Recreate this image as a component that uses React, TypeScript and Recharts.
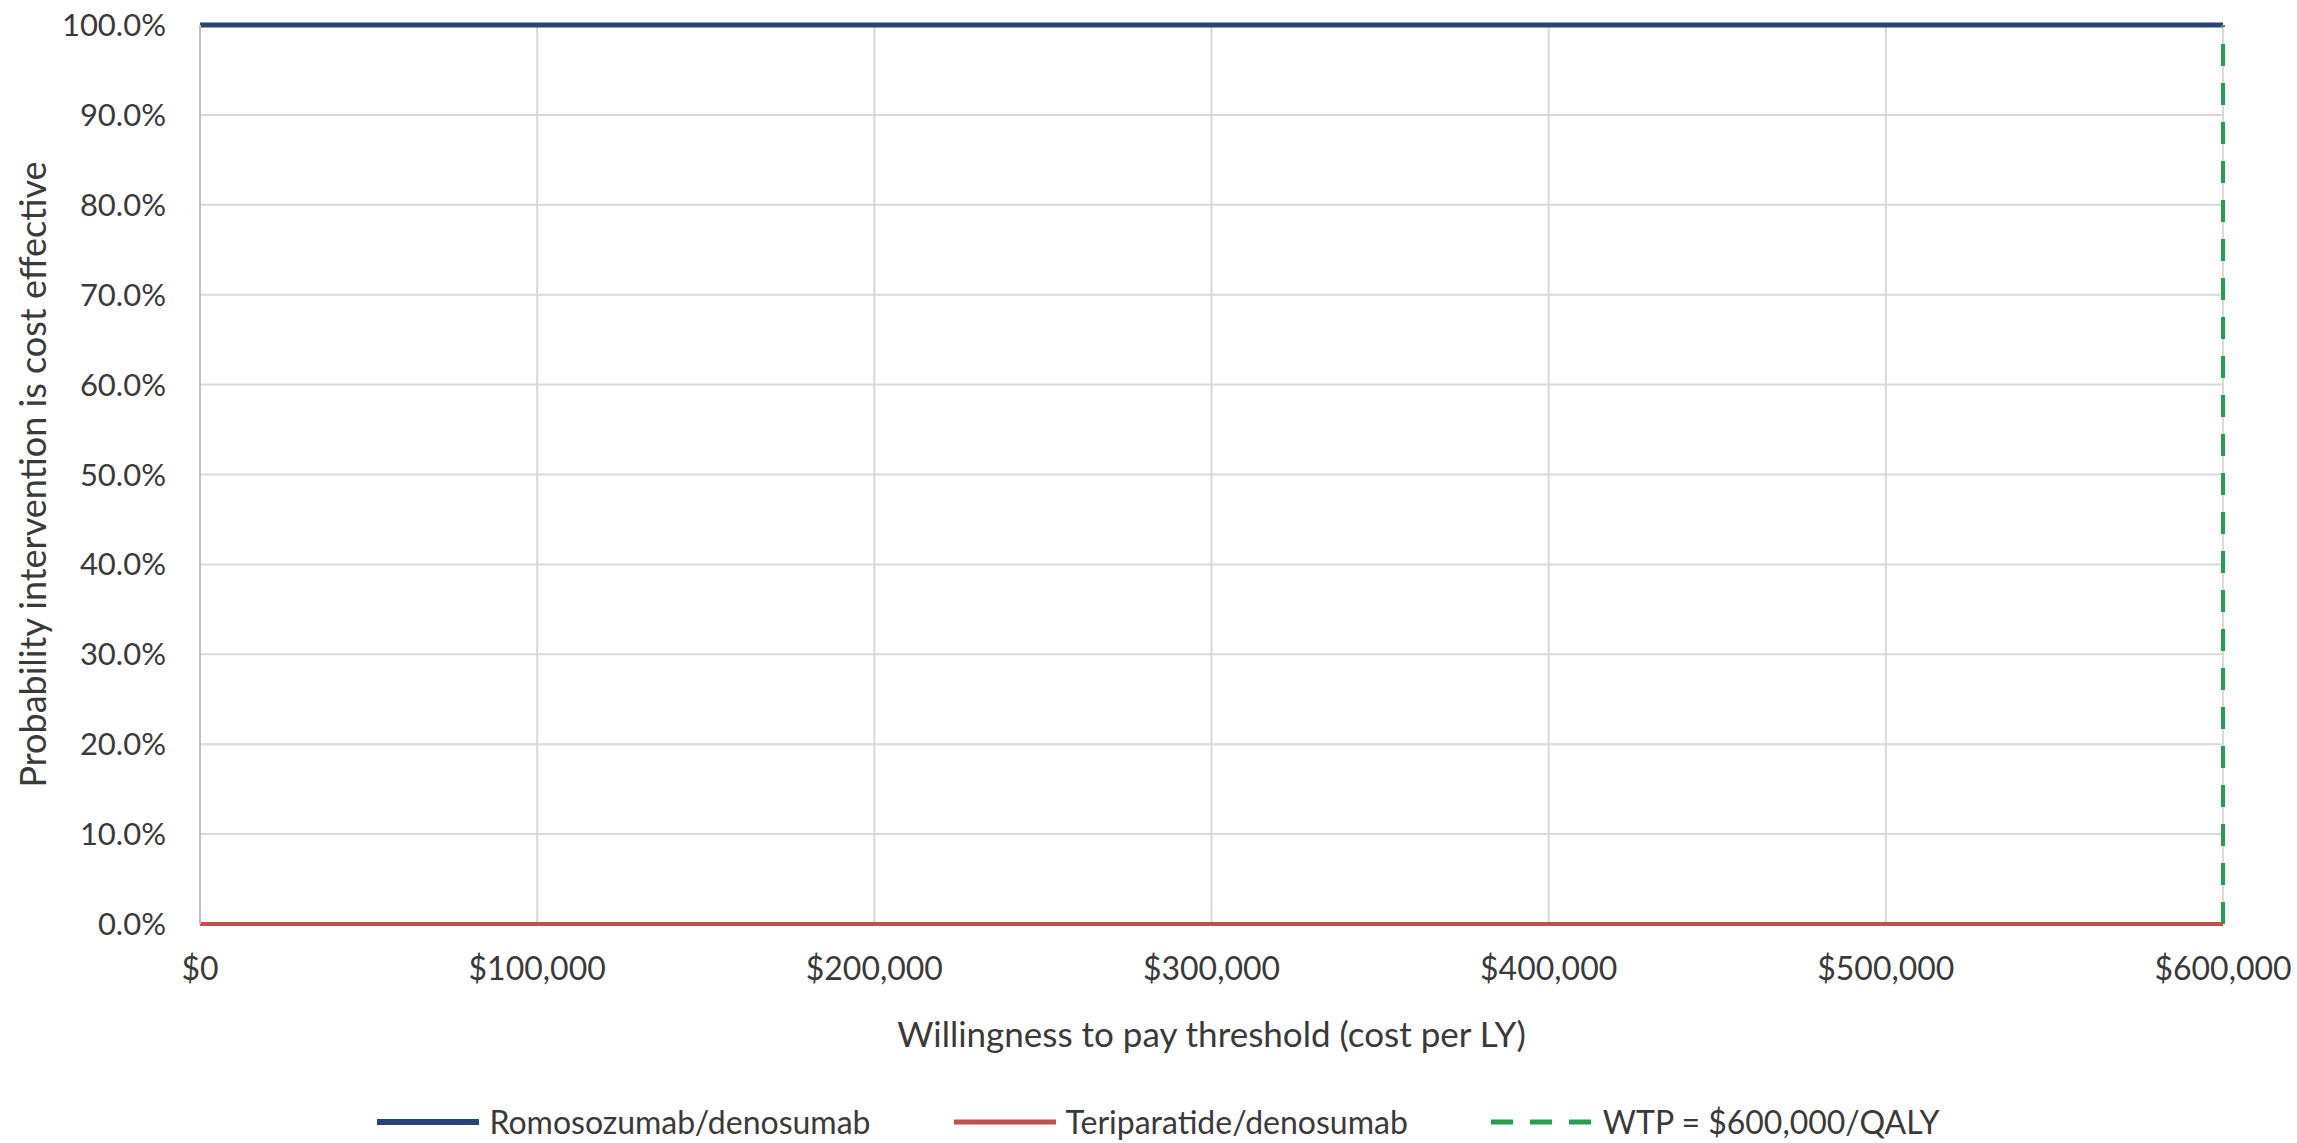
import { CartesianGrid, Legend, Line, LineChart, ReferenceLine, XAxis, YAxis } from 'recharts';

const thresholds = [0, 50000, 100000, 150000, 200000, 250000, 300000, 350000, 400000, 450000, 500000, 550000, 600000];
const romosozumab = [1, 1, 1, 1, 1, 1, 1, 1, 1, 1, 1, 1, 1];
const teriparatide = [0, 0, 0, 0, 0, 0, 0, 0, 0, 0, 0, 0, 0];
const wtpValue = 600000;

const xTicks = [0, 100000, 200000, 300000, 400000, 500000, 600000];
const yTicks = [0, 0.1, 0.2, 0.3, 0.4, 0.5, 0.6, 0.7, 0.8, 0.9, 1];

const seriesNames = ['Romosozumab/denosumab', 'Teriparatide/denosumab', 'WTP = $600,000/QALY'];

const data = thresholds.map((t, i) => ({ t, romo: romosozumab[i], teri: teriparatide[i] }));

const FONT = 'Lato, "Noto Sans", sans-serif';
const TEXT = '#3a3a3a';
const BLUE = '#264478';
const RED = '#c0504d';
const GREEN = '#22a150';

const legendItems = [
  { name: seriesNames[0], color: BLUE, width: 6, dash: undefined },
  { name: seriesNames[1], color: RED, width: 5, dash: undefined },
  { name: seriesNames[2], color: GREEN, width: 5, dash: '22 17' },
];

const CostLegend = () => (
  <div style={{ display: 'flex', justifyContent: 'center', paddingLeft: 20, fontFamily: FONT, fontSize: 32, color: TEXT }}>
    {legendItems.map((item, i) => (
      <div key={item.name} style={{ display: 'flex', alignItems: 'center', marginLeft: i === 0 ? 0 : 83 }}>
        <svg width={102} height={12} style={{ marginRight: 10 }}>
          <line x1={0} y1={6} x2={102} y2={6} stroke={item.color} strokeWidth={item.width} strokeDasharray={item.dash} />
        </svg>
        <span>{item.name}</span>
      </div>
    ))}
  </div>
);

export default function App() {
  return (
    <div style={{ position: 'absolute', left: 0, top: 0, background: '#fff' }}>
      <LineChart width={2297} height={1143} data={data} margin={{ top: 25, right: 74, left: 0, bottom: 0 }}>
        <CartesianGrid stroke="#d9d9d9" strokeWidth={2} />
        <XAxis
          dataKey="t"
          type="number"
          domain={[0, 600000]}
          ticks={xTicks}
          height={219}
          tickSize={0}
          tickMargin={33}
          axisLine={false}
          tick={{ fill: TEXT, fontSize: 32, fontFamily: FONT }}
          tickFormatter={(v: number) => `$${v.toLocaleString('en-US')}`}
          label={{ value: 'Willingness to pay threshold (cost per LY)', position: 'insideTop', offset: 98, fill: TEXT, fontSize: 35, fontFamily: FONT }}
        />
        <YAxis
          type="number"
          domain={[0, 1]}
          ticks={yTicks}
          width={200}
          tickSize={0}
          tickMargin={34}
          axisLine={{ stroke: '#bfbfbf', strokeWidth: 2 }}
          tick={{ fill: TEXT, fontSize: 31, fontFamily: FONT }}
          tickFormatter={(v: number) => `${(v * 100).toFixed(1)}%`}
          label={{
            value: 'Probability intervention is cost effective',
            angle: -90,
            position: 'insideLeft',
            offset: 33,
            fill: TEXT,
            fontSize: 36,
            fontFamily: FONT,
            style: { textAnchor: 'middle' },
          }}
        />
        <Line dataKey="romo" name={seriesNames[0]} stroke={BLUE} strokeWidth={5} dot={false} isAnimationActive={false} />
        <Line dataKey="teri" name={seriesNames[1]} stroke={RED} strokeWidth={4} dot={false} isAnimationActive={false} />
        <ReferenceLine x={wtpValue} stroke={GREEN} strokeWidth={4} strokeDasharray="22 17" />
        <Legend verticalAlign="middle" content={<CostLegend />} wrapperStyle={{ top: 1102, left: 0, width: 2297 }} />
      </LineChart>
    </div>
  );
}
